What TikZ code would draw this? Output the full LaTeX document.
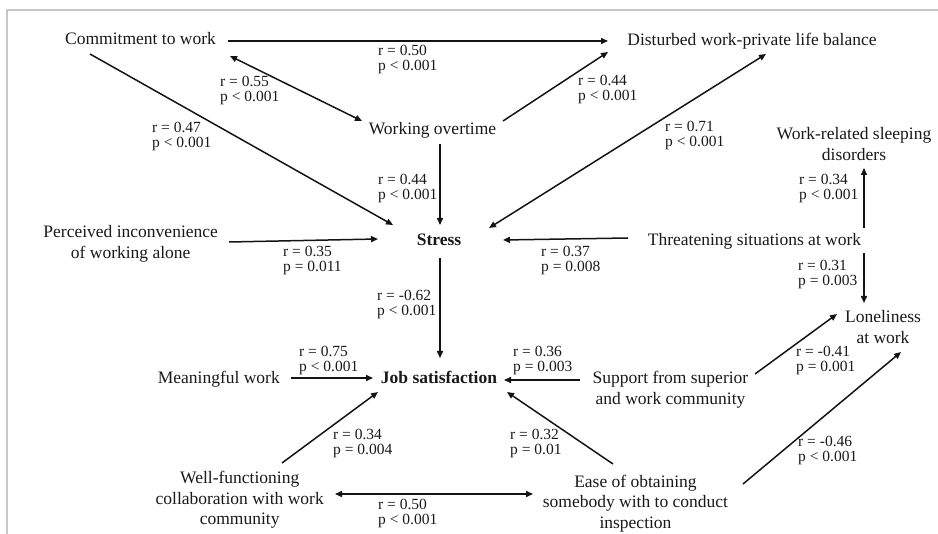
\documentclass[tikz,border=0pt]{standalone}
\usepackage{fontspec}
\setmainfont{Liberation Serif}
\usetikzlibrary{arrows.meta,calc}
\begin{document}
\begin{tikzpicture}[x=1pt,y=-1pt,
  concept/.style={inner sep=0pt,align=center,text=black!90,font=\fontsize{17.5}{20.5}\selectfont},
  single/.style={concept,anchor=base},
  stat/.style={inner sep=0pt,align=left,anchor=west,text=black!90,font=\fontsize{15.5}{15}\selectfont},
  link/.style={line width=1.5pt,draw=black!92,-{Triangle[length=7pt,width=6pt]}},
  both/.style={line width=1.5pt,draw=black!92,{Triangle[length=7pt,width=6pt]}-{Triangle[length=7pt,width=6pt]}},
]
\useasboundingbox (0,0) rectangle (938,534);
% frame edges
\draw[line width=2pt,draw=black!22] (7,534) -- (7,10) -- (938,10);

% concepts
\node[single] (commit)   at (140.5,45)   {Commitment to work};
\node[single] (disturb)  at (752,45.5)   {Disturbed work-private life balance};
\node[single] (overtime) at (432.5,134.5){Working overtime};
\node[single] (stress)   at (439,245.5)  {\bfseries Stress};
\node[single] (threat)   at (754.5,245.5){Threatening situations at work};
\node[single] (job)      at (439,383.5)  {\bfseries Job satisfaction};
\node[single] (meaning)  at (218.8,383.5){Meaningful work};
\node[concept] (perceived) at (130.7,244) {Perceived inconvenience\\of working alone};
\node[concept] (sleep)     at (854,144)   {Work-related sleeping\\disorders};
\node[concept] (lonely)    at (883,327)   {Loneliness\\at work};
\node[concept] (support)   at (670.5,389.5) {Support from superior\\and work community};
\node[concept] (ease)      at (635.5,503.5) {Ease of obtaining\\somebody with to conduct\\inspection};
\node[concept] (well)      at (239.7,500)   {Well-functioning\\collaboration with work\\community};

% connectors
\draw[link] ($(commit.base)+(87.5,-4)$) -- ($(disturb.base)+(-144,-4.5)$);
\draw[both] ($(commit.base)+(89.5,11)$) -- ($(overtime.base)+(-70.5,-13.5)$);
\draw[link] ($(overtime.base)+(70.5,-13.5)$) -- ($(disturb.base)+(-144,6.5)$);
\draw[link] ($(commit.base)+(-50.5,9)$) -- ($(stress.base)+(-46,-20.5)$);
\draw[link] ($(overtime.base)+(7.5,9.5)$) -- ($(stress.base)+(1,-20.5)$);
\draw[link] ($(perceived)+(98.3,-2)$) -- ($(stress.base)+(-61,-6.5)$);
\draw[link] ($(threat.base)+(-126.5,-7.5)$) -- ($(stress.base)+(64,-5.5)$);
\draw[both] ($(stress.base)+(50,-17.5)$) -- ($(disturb.base)+(14,8.5)$);
\draw[link] ($(threat.base)+(109.5,-17.5)$) -- ($(sleep)+(10,24)$);
\draw[link] ($(threat.base)+(109.5,7.5)$) -- ($(lonely)+(-19,-24)$);
\draw[link] ($(stress.base)+(1,12.5)$) -- ($(job.base)+(1,-25.5)$);
\draw[link] ($(meaning.base)+(72.2,-5.5)$) -- ($(job.base)+(-66,-5.5)$);
\draw[link] ($(support)+(-90.5,-9.5)$) -- ($(job.base)+(65,-3.5)$);
\draw[link] ($(support)+(84.5,-15.5)$) -- ($(lonely)+(-46,-13)$);
\draw[link] ($(ease)+(-22.5,-39.5)$) -- ($(job.base)+(68,8.5)$);
\draw[link] ($(ease)+(107.5,-19.5)$) -- ($(lonely)+(18,25)$);
\draw[link] ($(well)+(42.3,-37)$) -- ($(job.base)+(-61,8.5)$);
\draw[both] ($(well)+(95.3,-6)$) -- ($(ease)+(-102.5,-9.5)$);

% correlation labels
\node[stat] (s1)  at (378,59)    {r = 0.50\\p < 0.001};
\node[stat] (s2)  at (220,90.5)  {r = 0.55\\p < 0.001};
\node[stat] (s3)  at (578,90)    {r = 0.44\\p < 0.001};
\node[stat] (s4)  at (152,136.5) {r = 0.47\\p < 0.001};
\node[stat] (s5)  at (378,188.5) {r = 0.44\\p < 0.001};
\node[stat] (s6)  at (283,260.5) {r = 0.35\\p = 0.011};
\node[stat] (s7)  at (541,260.5) {r = 0.37\\p = 0.008};
\node[stat] (s8)  at (665,135.5) {r = 0.71\\p < 0.001};
\node[stat] (s9)  at (799,188.5) {r = 0.34\\p < 0.001};
\node[stat] (s10) at (798,274)   {r = 0.31\\p = 0.003};
\node[stat] (s11) at (377,304.5) {r = -0.62\\p < 0.001};
\node[stat] (s12) at (299,360.5) {r = 0.75\\p < 0.001};
\node[stat] (s13) at (513,360.5) {r = 0.36\\p = 0.003};
\node[stat] (s14) at (796,360)   {r = -0.41\\p = 0.001};
\node[stat] (s15) at (510,443.5) {r = 0.32\\p = 0.01};
\node[stat] (s16) at (798,450.5) {r = -0.46\\p < 0.001};
\node[stat] (s17) at (333,443.5) {r = 0.34\\p = 0.004};
\node[stat] (s18) at (378,513.5) {r = 0.50\\p < 0.001};
\end{tikzpicture}
\end{document}
